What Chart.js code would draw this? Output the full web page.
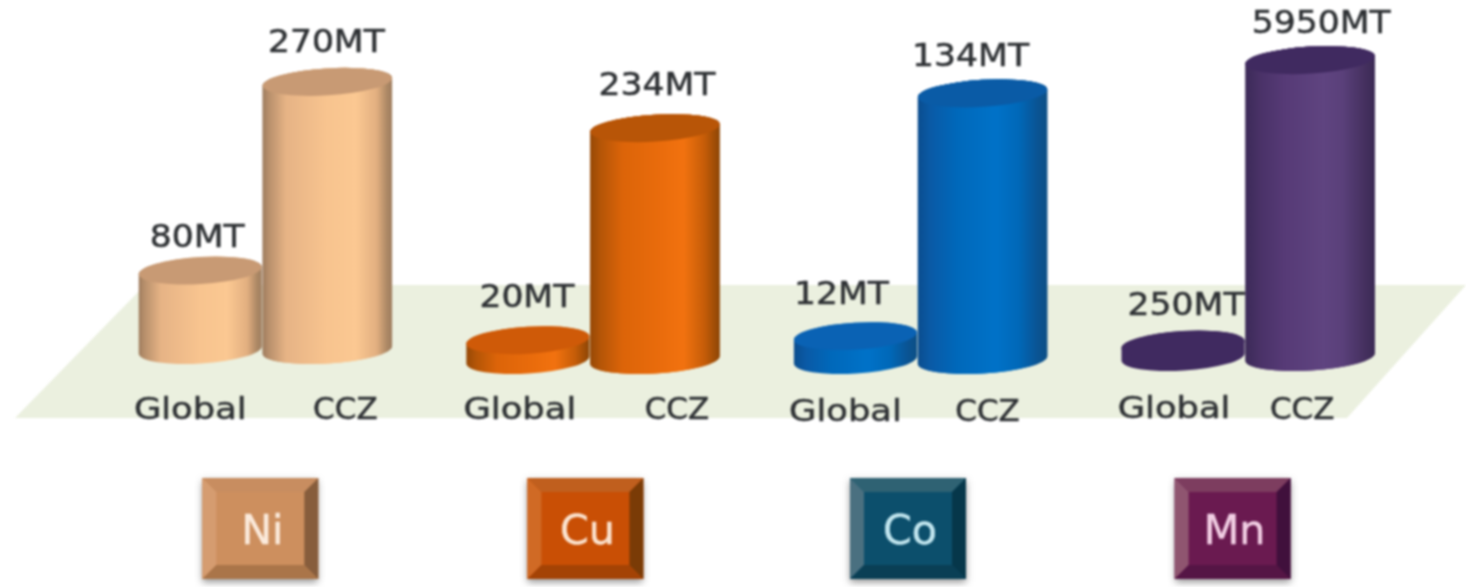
<!DOCTYPE html>
<html>
<head>
<meta charset="utf-8">
<style>
html,body{margin:0;padding:0;background:#fff;overflow:hidden}
canvas{display:block;filter:blur(0.8px)}
</style>
<script src="https://cdn.jsdelivr.net/npm/chart.js@4"></script>
</head>
<body>
<div style="width:1466px;height:587px"><canvas id="c" width="1466" height="587"></canvas></div>
<script>
// ---- data (MT) ----
const metals = ['Ni', 'Cu', 'Co', 'Mn'];
const sources = ['Global', 'CCZ'];
const globalMT = [80, 20, 12, 250];
const cczMT = [270, 234, 134, 5950];

// ---- layout and style ----
const CANVAS_H = 587;
const pxPerMT = [0.993, 0.991, 1.99, 0.0499];   // each metal is drawn on its own scale
const basePixel = [350, 360, 360, 357];
const barColor = ['#f9c590', '#ef7010', '#0070c6', '#5f4480'];
const palette = {
  '#f9c590': {cap:'#c89a74', capShort:'#c89a74', stops:[[0,'#9e7c5e'],[.05,'#b8906c'],[.18,'#e6b385'],[.5,'#f8c48f'],[.72,'#fbc892'],[.88,'#e2af80'],[.96,'#ac8865'],[1,'#9e7d5f']]},
  '#ef7010': {cap:'#b85507', capShort:'#cf5a08', stops:[[0,'#964806'],[.08,'#b45507'],[.25,'#dc6409'],[.55,'#ea6c0c'],[.72,'#f2720f'],[.88,'#c65d08'],[1,'#8c4505']]},
  '#0070c6': {cap:'#0a5ba6', capShort:'#0a62b4', stops:[[0,'#0b4d8e'],[.1,'#0a5aa6'],[.3,'#0068ba'],[.6,'#0072c8'],[.78,'#0068b8'],[.92,'#0a5494'],[1,'#0c4f85']]},
  '#5f4480': {cap:'#402a60', capShort:'#402a60', stops:[[0,'#3c2a58'],[.12,'#4a3268'],[.3,'#563a76'],[.6,'#5f4480'],[.75,'#5a407a'],[.92,'#45305f'],[1,'#3b2a54']]}
};
const CAP_RY = 13.5, CAP_TILT = -3.5 * Math.PI / 180;
const TEXT = '#2e3134', FONT = '"DejaVu Sans", sans-serif';
const valueNudge = {Global:[[-3,-32],[-1,-41],[-14,-40],[3,-38]], CCZ:[[-1,-38],[2,-41],[-12,-36],[11,-35]]};
const sourceNudge = {Global:[[-10,411],[-8,411],[-10,413],[-9,410]], CCZ:[[18,411],[22,411],[5,413],[-8,411]]};
const sourceStretch = {Global:1.14, CCZ:1.0};
const legendDx = [-3.5, -6, -11, -14];
const legendStyle = [
  {face:'#cd8f5e', top:'#c88d60', left:'#d59c70', bottom:'#aa7549', right:'#875d3c', text:'#fbeadb'},
  {face:'#c94f05', top:'#c05f1e', left:'#d06a25', bottom:'#a44305', right:'#7a3b06', text:'#fbe3cf'},
  {face:'#0c4f6c', top:'#2f6273', left:'#4a7080', bottom:'#0a3f55', right:'#06374a', text:'#c2e6ef'},
  {face:'#6a1a50', top:'#7d3d5f', left:'#8f5570', bottom:'#551545', right:'#40103c', text:'#f2cfe4'}
];

// each bar element draws itself as a cylinder
Chart.BarElement.prototype.draw = function (ctx) {
  const {x, y, base, width} = this.getProps(['x', 'y', 'base', 'width'], true);
  const p = palette[this.options.backgroundColor];
  const rx = width / 2, short = base - y < 30;
  ctx.save();
  const g = ctx.createLinearGradient(x - rx, 0, x + rx, 0);
  if (base - y < 15) { g.addColorStop(0, p.cap); g.addColorStop(1, p.cap); }
  else p.stops.forEach(s => g.addColorStop(s[0], s[1]));
  ctx.fillStyle = g;
  ctx.beginPath();
  ctx.ellipse(x, base, rx, CAP_RY, CAP_TILT, 0, Math.PI);
  ctx.ellipse(x, y, rx, CAP_RY, CAP_TILT, Math.PI, 2 * Math.PI);
  ctx.closePath();
  ctx.fill();
  ctx.fillStyle = short ? p.capShort : p.cap;
  ctx.beginPath();
  ctx.ellipse(x, y, rx, CAP_RY, CAP_TILT, 0, 2 * Math.PI);
  ctx.fill();
  ctx.restore();
};

function wideText(ctx, str, x, y, font, color, sx) {
  ctx.save();
  ctx.font = font; ctx.fillStyle = color; ctx.strokeStyle = color; ctx.lineWidth = 0.5;
  ctx.textAlign = 'center'; ctx.textBaseline = 'middle';
  ctx.translate(x, y); ctx.scale(sx, 1);
  ctx.fillText(str, 0, 0);
  ctx.strokeText(str, 0, 0);
  ctx.restore();
}

const scenery = {
  id: 'scenery',
  beforeDatasetsDraw(chart) {
    const ctx = chart.ctx;
    ctx.save();
    ctx.fillStyle = '#ebf0df';
    ctx.beginPath();
    ctx.moveTo(145, 285); ctx.lineTo(1466, 285); ctx.lineTo(1347, 418); ctx.lineTo(15, 418);
    ctx.closePath(); ctx.fill();
    ctx.restore();
    // category tick labels sit on the floor, under the cylinders
    chart.getSortedVisibleDatasetMetas().forEach(meta => {
      const ds = chart.data.datasets[meta.index];
      const i = ds.metalIndex, el = meta.data[i];
      const n = sourceNudge[ds.stack][i];
      wideText(ctx, ds.stack, el.x + n[0], n[1], '31px ' + FONT, TEXT, sourceStretch[ds.stack]);
    });
  },
  afterDatasetsDraw(chart) {
    const ctx = chart.ctx;
    // CCZ cylinders stand in front of the Global ones
    chart.getSortedVisibleDatasetMetas().forEach(meta => {
      const ds = chart.data.datasets[meta.index];
      if (ds.stack === 'CCZ') meta.data[ds.metalIndex].draw(ctx);
    });
    chart.getSortedVisibleDatasetMetas().forEach(meta => {
      const ds = chart.data.datasets[meta.index];
      const i = ds.metalIndex, el = meta.data[i];
      const n = valueNudge[ds.stack][i];
      wideText(ctx, ds.data[i] + 'MT', el.x + n[0], el.y + n[1], '32px ' + FONT, TEXT, 1.08);
    });
    // bevelled metal keys
    const xs = chart.scales.x;
    const W = 116, H = 101, B = 14, top = 478;
    metals.forEach((m, i) => {
      const s = legendStyle[i];
      const l = xs.getPixelForTick(i) + legendDx[i] - W / 2, r = l + W, t = top, b = t + H;
      ctx.save();
      ctx.shadowColor = 'rgba(60,60,60,.55)'; ctx.shadowBlur = 7; ctx.shadowOffsetY = 3;
      ctx.fillStyle = s.face; ctx.fillRect(l, t, W, H);
      ctx.restore();
      const poly = (c, pts) => {
        ctx.fillStyle = c; ctx.beginPath();
        pts.forEach((q, k) => k ? ctx.lineTo(q[0], q[1]) : ctx.moveTo(q[0], q[1]));
        ctx.closePath(); ctx.fill();
      };
      poly(s.top, [[l,t],[r,t],[r-B,t+B],[l+B,t+B]]);
      poly(s.left, [[l,t],[l+B,t+B],[l+B,b-B],[l,b]]);
      poly(s.bottom, [[l,b],[l+B,b-B],[r-B,b-B],[r,b]]);
      poly(s.right, [[r,t],[r,b],[r-B,b-B],[r-B,t+B]]);
      wideText(ctx, m, (l + r) / 2 + 2, (t + b) / 2 + 5, '40px ' + FONT, s.text, 1.03);
    });
  }
};

// one hidden value axis per metal
const yScales = {};
metals.forEach((m, i) => {
  yScales['y' + m] = {
    display: false,
    min: -(CANVAS_H - basePixel[i]) / pxPerMT[i],
    max: basePixel[i] / pxPerMT[i]
  };
});
const only = (arr, i) => arr.map((v, k) => (k === i ? v : null));

const datasets = [];
const barWidthRatio = {Global: 0.97, CCZ: 1.02};
metals.forEach((m, i) => {
  [['Global', globalMT], ['CCZ', cczMT]].forEach(([src, arr]) => {
    datasets.push({
      label: m + ' ' + src,
      stack: src,
      metalIndex: i,
      yAxisID: 'y' + m,
      data: only(arr, i),
      backgroundColor: barColor[i],
      barPercentage: barWidthRatio[src],
      categoryPercentage: 0.776
    });
  });
});

new Chart(document.getElementById('c'), {
  type: 'bar',
  data: {labels: metals, datasets},
  plugins: [scenery],
  options: {
    responsive: false,
    animation: false,
    devicePixelRatio: 1,
    layout: {padding: {left: 100, right: 55.6, top: 0, bottom: 0}},
    plugins: {legend: {display: false}, tooltip: {enabled: false}, title: {display: false}},
    scales: Object.assign({x: {display: false, offset: true}}, yScales)
  }
});
</script>
</body>
</html>
